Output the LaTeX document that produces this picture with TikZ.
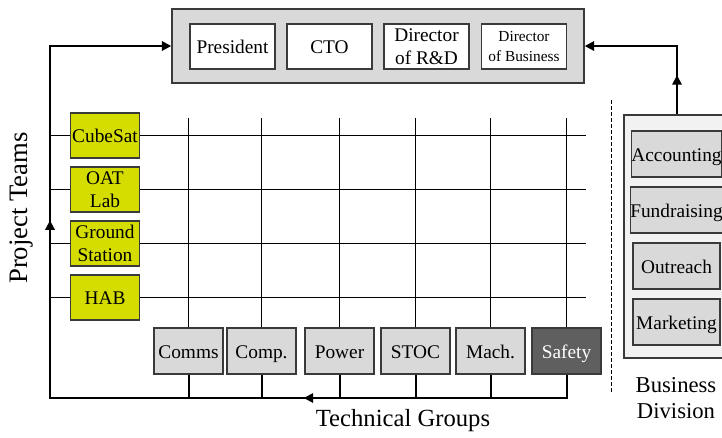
\documentclass[tikz,border=0pt]{standalone}
\usepackage{fontspec}
\setmainfont{Liberation Serif}
\usetikzlibrary{arrows.meta,decorations.markings}
\definecolor{boxgray}{HTML}{D9D9D9}
\definecolor{teamgreen}{HTML}{D4DC00}
\definecolor{darkbox}{HTML}{5F5F5F}
\definecolor{edgegray}{HTML}{3A3A3A}
\definecolor{divgray}{HTML}{F2F2F2}
\begin{document}
\begin{tikzpicture}[x=0.75pt,y=-0.75pt,
  box/.style={draw=edgegray, line width=1.1pt, inner sep=0pt, align=center, font=\fontsize{14.5}{17}\selectfont},
  oneline/.style={text height=13pt, text depth=2pt},
  toprole/.style={box, fill=white, minimum width=63.75pt, minimum height=33.75pt},
  team/.style={box, fill=teamgreen, minimum width=51.75pt, minimum height=34pt},
  tech/.style={box, oneline, fill=boxgray, minimum width=51.75pt, minimum height=34.5pt},
  biz/.style={box, oneline, fill=boxgray, minimum width=65.25pt, minimum height=34.5pt},
  gridline/.style={line width=0.8pt, black},
  mainline/.style={line width=1.5pt, black},
  tiparrow/.style={-{Triangle[length=7pt,width=7pt]}},
  dividerline/.style={line width=0.8pt, black, dash pattern=on 3pt off 1.5pt},
  biglabel/.style={inner sep=0pt, align=center}
]
\useasboundingbox (0,0) rectangle (722,437);
\clip (0,0) rectangle (722,437);

% top leadership box
\node[draw=edgegray, fill=boxgray, line width=1.1pt, minimum width=309pt, minimum height=55.5pt, inner sep=0pt] (top) at (378,46) {};
\node[toprole, oneline] (pres) at (232.5,46.5) {President};
\node[toprole, oneline] (cto) at (329.5,46.5) {CTO};
\node[toprole] (dird) at (426.5,46.5) {Director\\of R\&D};
\node[toprole, font=\fontsize{11.5}{14.5}\selectfont] (dbus) at (524,46.5) {Director\\of Business};

% project teams
\node[team, oneline] (cubesat) at (105,135.5) {CubeSat};
\node[team] (oat) at (105,189.5) {OAT\\Lab};
\node[team] (ground) at (105,243.5) {Ground\\Station};
\node[team, oneline] (hab) at (105,297.5) {HAB};

% technical groups
\node[tech] (comms) at (188.5,351) {Comms};
\node[tech] (comp) at (261.5,351) {Comp.};
\node[tech] (power) at (339.5,351) {Power};
\node[tech] (stoc) at (415.5,351) {STOC};
\node[tech] (mach) at (490.5,351) {Mach.};
\node[tech, fill=darkbox, text=white] (safety) at (566.5,351) {Safety};

% business division
\node[draw=edgegray, fill=divgray, line width=1.1pt, minimum width=79.5pt, minimum height=182.25pt, inner sep=0pt] (bd) at (677,236.5) {};
\node[biz] (acc) at (676.5,154) {Accounting};
\node[biz] (fund) at (676.5,210) {Fundraising};
\node[biz] (outr) at (676.5,266) {Outreach};
\node[biz] (mkt) at (676.5,322) {Marketing};

% helper coordinates
\coordinate (corner) at (50,398);
\coordinate (gridR) at (586,0);
\coordinate (gridT) at (0,118);
\coordinate (dtop) at (611.5,100);
\coordinate (dbot) at (611.5,393);

% grid lines
\foreach \n in {cubesat,oat,ground,hab}{
  \draw[gridline] (corner |- \n) -- (\n.west);
  \draw[gridline] (\n.east) -- (\n -| gridR);
}
\foreach \n in {comms,comp,power,stoc,mach,safety}{
  \draw[gridline] (\n.north) -- (\n |- gridT);
}
\foreach \n in {comms,comp,power,stoc,mach}{
  \draw[mainline] (\n.south) -- (\n |- corner);
}

% main reporting path
\draw[mainline, tiparrow, postaction={decorate}, decoration={markings,
   mark=at position 214.5pt with {\arrow{Triangle[length=7pt,width=7pt]}},
   mark=at position 538pt with {\arrow{Triangle[length=7pt,width=7pt]}}}]
  (safety.south) |- (corner) |- (top.west);

\draw[mainline, tiparrow, postaction={decorate}, decoration={markings,
   mark=at position 29.25pt with {\arrow{Triangle[length=7pt,width=7pt]}}}]
  (bd.north) |- (top.east);

\draw[dividerline] (dtop) -- (dbot);

% labels
\node[biglabel, rotate=90, font=\fontsize{20}{24}\selectfont] (ptl) at (22,208) {Project Teams};
\node[biglabel, font=\fontsize{18.5}{22}\selectfont] (tgl) at (403,421) {Technical Groups};
\node[biglabel, font=\fontsize{17}{19.5}\selectfont] (bdl) at (676,398) {Business\\Division};
\end{tikzpicture}
\end{document}
